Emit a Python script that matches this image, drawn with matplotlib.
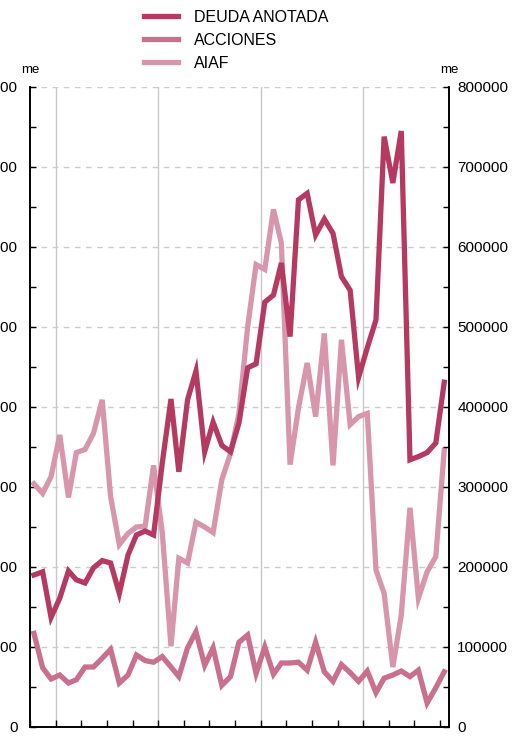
import matplotlib
matplotlib.use('Agg')
import matplotlib.pyplot as plt
import matplotlib.dates as mdates
from matplotlib.ticker import MultipleLocator, FuncFormatter
import pandas as pd

plt.rcParams['font.family'] = ['Liberation Sans', 'DejaVu Sans']

# monthly series, Oct 2008 - Oct 2012 (plotted mid-month)
months = pd.date_range("2008-10-01", "2012-10-01", freq="MS") + pd.Timedelta(days=14)

deuda_anotada = [
    190000, 194000, 137000, 161000, 195000, 184000, 180000, 199000, 208000, 205000,
    167000, 215000, 240000, 245000, 240000, 330000, 410000, 319000, 409000, 445000,
    344000, 381000, 352000, 344000, 380000, 449000, 454000, 531000, 540000, 580000,
    488000, 659000, 667000, 615000, 635000, 617000, 563000, 546000, 437000, 474000,
    509000, 738000, 680000, 745000, 334000, 338000, 343000, 355000, 431000,
]
acciones = [
    117000, 74000, 60000, 65000, 55000, 59000, 75000, 75000, 86000, 97000,
    55000, 65000, 90000, 83000, 81000, 88000, 75000, 63000, 99000, 119000,
    77000, 99000, 52000, 63000, 106000, 115000, 67000, 100000, 66000, 80000,
    80000, 81000, 71000, 106000, 69000, 57000, 78000, 68000, 57000, 70000,
    43000, 61000, 65000, 70000, 63000, 71000, 30000, 49000, 69000,
]
aiaf = [
    304000, 292000, 313000, 365000, 287000, 343000, 347000, 367000, 409000, 288000,
    228000, 242000, 250000, 251000, 327000, 243000, 101000, 211000, 205000, 256000,
    250000, 243000, 309000, 342000, 392000, 500000, 578000, 572000, 647000, 605000,
    328000, 399000, 455000, 388000, 492000, 327000, 484000, 378000, 388000, 392000,
    196000, 167000, 75000, 140000, 274000, 161000, 194000, 213000, 346000,
]

year_starts = pd.to_datetime(["2009-01-01", "2010-01-01", "2011-01-01", "2012-01-01"])

COL_DEUDA = "#b53a62"
COL_ACC = "#c9708f"
COL_AIAF = "#d896ac"

fig = plt.figure(figsize=(5.12, 7.46), dpi=100)
ax = fig.add_axes([30 / 512, 19 / 746, 419 / 512, 640 / 746])

lw = 3.8
l_aiaf, = ax.plot(months, aiaf, color=COL_AIAF, lw=lw, solid_joinstyle='miter', label="AIAF")
l_acc, = ax.plot(months, acciones, color=COL_ACC, lw=lw, solid_joinstyle='miter', label="ACCIONES")
l_deuda, = ax.plot(months, deuda_anotada, color=COL_DEUDA, lw=lw, solid_joinstyle='miter',
                   label="DEUDA ANOTADA")

for d in year_starts:
    ax.axvline(d, color="#c8c8c8", lw=1.0, zorder=0)

ax.set_xlim(pd.Timestamp("2008-10-01"), pd.Timestamp("2012-11-01"))
ax.set_ylim(0, 800000)

# y axis: same scale on both sides, ticks pointing inward
fmt = FuncFormatter(lambda v, p: f"{int(v)}")
ax.yaxis.set_major_locator(MultipleLocator(100000))
ax.yaxis.set_minor_locator(MultipleLocator(50000))
ax.yaxis.set_major_formatter(fmt)
ax.grid(axis='y', which='major', color="#cccccc", lw=1.0, linestyle=(0, (4, 4)), zorder=0)
ax.tick_params(axis='y', which='both', direction='in', length=4, width=1.0, labelsize=11)
ax.tick_params(axis='y', which='major', pad=9)

ax_r = ax.twinx()
ax_r.set_ylim(0, 800000)
ax_r.yaxis.set_major_locator(MultipleLocator(100000))
ax_r.yaxis.set_minor_locator(MultipleLocator(50000))
ax_r.yaxis.set_major_formatter(fmt)
ax_r.tick_params(axis='y', which='both', direction='in', length=4, width=1.0, labelsize=11)
ax_r.tick_params(axis='y', which='major', pad=6)

# x axis: quarterly tick marks, year labels centred on each year
ax.xaxis.set_major_locator(mdates.MonthLocator(bymonth=[1, 4, 7, 10]))
ax.xaxis.set_major_formatter(FuncFormatter(lambda v, p: ""))
ax.xaxis.set_minor_locator(mdates.MonthLocator(bymonth=7))
ax.xaxis.set_minor_formatter(mdates.DateFormatter("%Y"))
ax.tick_params(axis='x', which='major', direction='in', length=5, width=1.0)
ax.tick_params(axis='x', which='minor', length=0, pad=3, labelsize=11)

for a in (ax, ax_r):
    a.spines['top'].set_visible(False)
    for s in ('left', 'right', 'bottom'):
        a.spines[s].set_linewidth(1.2)

fig.text(30 / 512, 1 - 70 / 746, "me", ha='center', va='center', fontsize=9.5)
fig.text(449 / 512, 1 - 70 / 746, "me", ha='center', va='center', fontsize=9.5)

fig.legend(handles=[l_deuda, l_acc, l_aiaf], loc='upper left',
           bbox_to_anchor=(144 / 512, 1 - 10 / 746), frameon=False,
           fontsize=11.5, handlelength=2.15, handletextpad=1.0,
           labelspacing=0.5, borderpad=0, borderaxespad=0)

fig.savefig("out.png", dpi=100)
